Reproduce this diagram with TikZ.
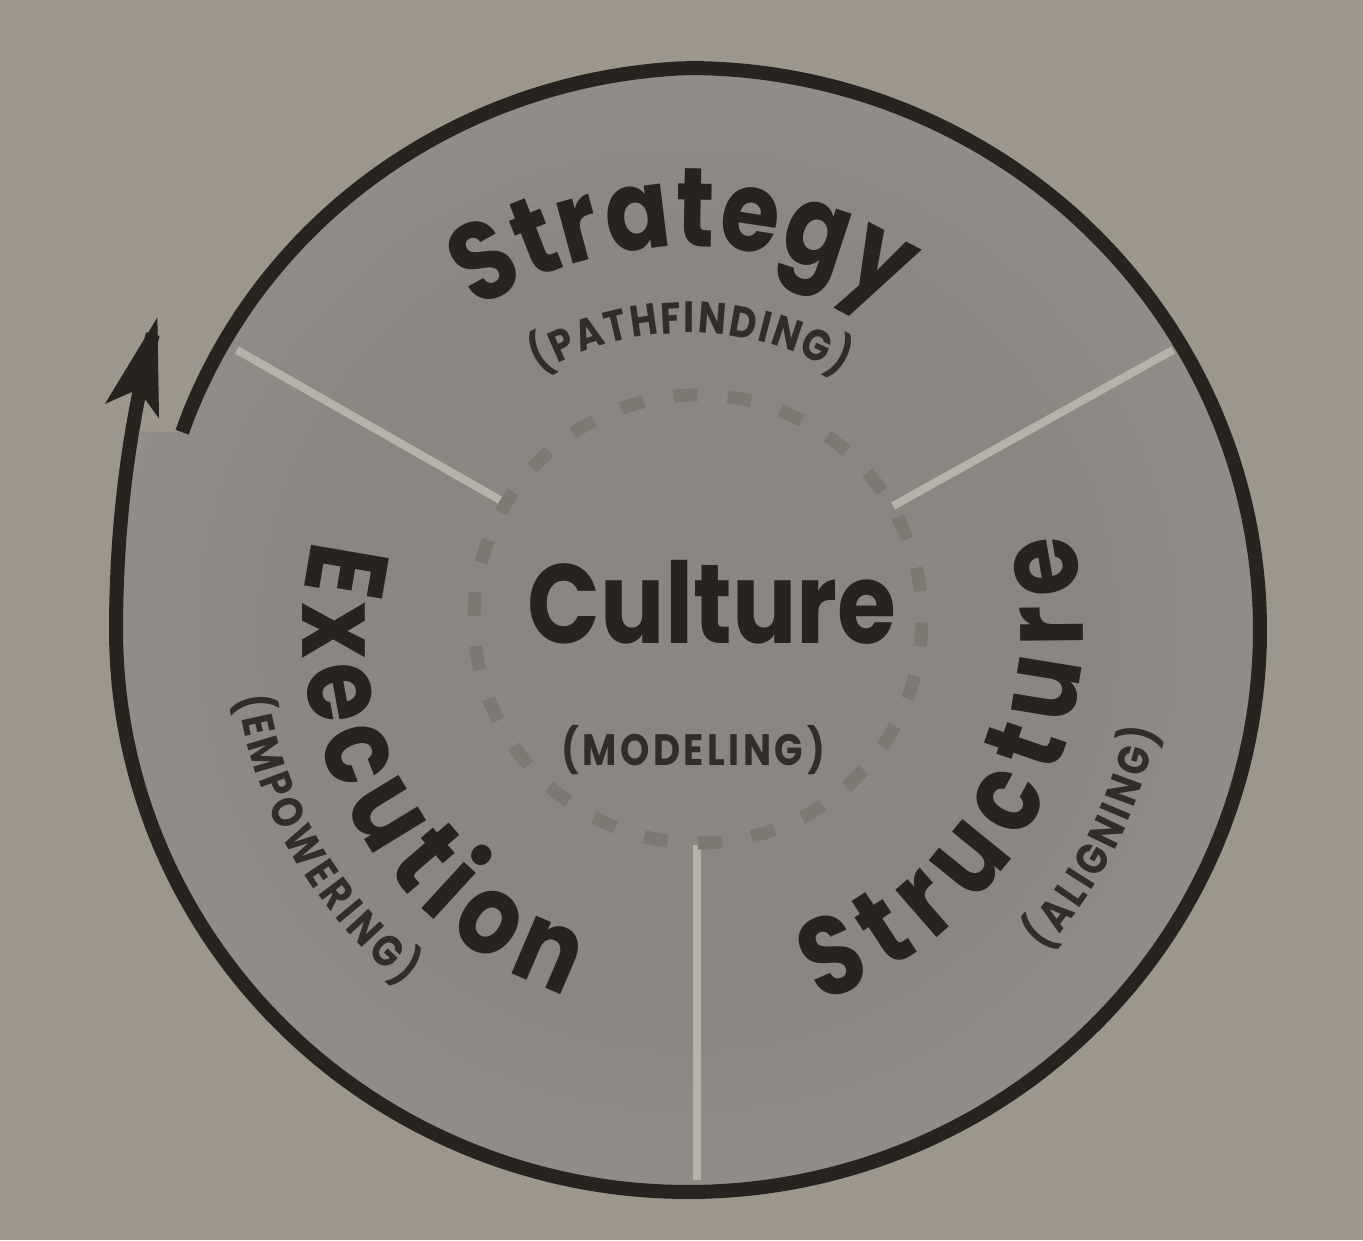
\documentclass[tikz,border=0pt]{standalone}
\usepackage{fontspec}
\usetikzlibrary{decorations.text,arrows.meta}
\newfontfamily\bigfont{Poppins}[FakeStretch=0.85]
\definecolor{bg}{HTML}{9C968B}
\definecolor{ink}{HTML}{27231F}
\definecolor{inksoft}{HTML}{322D29}
\definecolor{dashc}{HTML}{7C7872}
\definecolor{divc}{HTML}{B8B1A6}
\definecolor{discA}{HTML}{8A8681}
\definecolor{discB}{HTML}{928E89}
\definecolor{discC}{HTML}{A3A098}
\pgfdeclareradialshading{discshade}{\pgfpoint{0bp}{0bp}}{color(0bp)=(discA); color(17bp)=(discA); color(27bp)=(discB); color(38bp)=(discC); color(50bp)=(discC)}
\newcommand\BigF{\bigfont\bfseries\fontsize{32}{32}\selectfont\color{ink}}
\newcommand\SmallF{\bigfont\bfseries\fontsize{12.5}{12.5}\selectfont\color{inksoft}}
\tikzset{
  arctext/.style={decorate, decoration={text along path, text align=fit to path, text={#1}}},
  outline/.style={line width=0.14cm, draw=ink},
  divider/.style={line width=0.08cm, draw=divc},
  dashring/.style={line width=0.13cm, draw=dashc, dash pattern=on 0.24cm off 0.301cm, dash phase=0.264cm},
}
\begin{document}
\begin{tikzpicture}
\useasboundingbox (0,0) rectangle (13.63,12.40);
\fill[bg] (0,0) rectangle (13.63,12.40);
\coordinate (O) at (6.88,6.10);
\coordinate (C) at (6.98,6.21);
% disc
\shade[shading=discshade] plot[smooth, samples=150, domain=158.3:-200]
  ({6.88+5.72*(1-0.048*max(0,(\x-90)/68.3)+0.082*(max(0,-(\x)-180)/31)^2)*cos(\x)},
   {6.10+5.62*(1-0.048*max(0,(\x-90)/68.3)+0.082*(max(0,-(\x)-180)/31)^2)*sin(\x)}) -- cycle;
% dividers
\coordinate (ULo) at (2.37,8.90); \coordinate (ULi) at (5.00,7.40);
\coordinate (URo) at (11.73,8.90); \coordinate (URi) at (8.93,7.34);
\coordinate (Bo) at (6.97,0.60); \coordinate (Bi) at (6.97,3.95);
\draw[divider] (ULi) -- (ULo);
\draw[divider] (URi) -- (URo);
\draw[divider] (Bi) -- (Bo);
% dashed ring
\draw[dashring] (C) circle[radius=2.24];
% spiral outline with arrow
\draw[outline, -{Stealth[length=0.96cm, width=0.54cm, inset=0.21cm]}] plot[smooth, samples=160, domain=158.3:-211]
  ({6.88+5.72*(1-0.048*max(0,(\x-90)/68.3)+0.082*(max(0,-(\x)-180)/31)^2)*cos(\x)},
   {6.10+5.62*(1-0.048*max(0,(\x-90)/68.3)+0.082*(max(0,-(\x)-180)/31)^2)*sin(\x)});
% center texts
\node[anchor=base, inner sep=0pt] (culture) at (7.12,5.97) {\BigF Culture};
\node[anchor=base, inner sep=0pt] (modeling) at (6.93,4.75) {\SmallF\addfontfeature{LetterSpace=8}(MODELING)};
% curved texts
\path[arctext={|\BigF|Strategy}] ([shift={(123.4:3.83)}]O) arc[start angle=123.4, end angle=57.7, radius=3.83];
\path[arctext={|\SmallF|(PATHFINDING)}] ([shift={(120:2.97)}]O) arc[start angle=120, end angle=59, radius=2.97];
\path[arctext={|\BigF|Structure}] ([shift={(-70.4:3.95)}]O) arc[start angle=-70.4, end angle=14.2, radius=3.95];
\path[arctext={|\SmallF|(ALIGNING)}] ([shift={(-42:4.80)}]O) arc[start angle=-42, end angle=-12, radius=4.80];
\path[arctext={|\BigF|Execution}] ([shift={(166.5:3.85)}]O) arc[start angle=166.5, end angle=251.6, radius=3.85];
\path[arctext={|\SmallF|(EMPOWERING)}] ([shift={(188.5:4.55)}]O) arc[start angle=188.5, end angle=231.4, radius=4.55];
\end{tikzpicture}
\end{document}
